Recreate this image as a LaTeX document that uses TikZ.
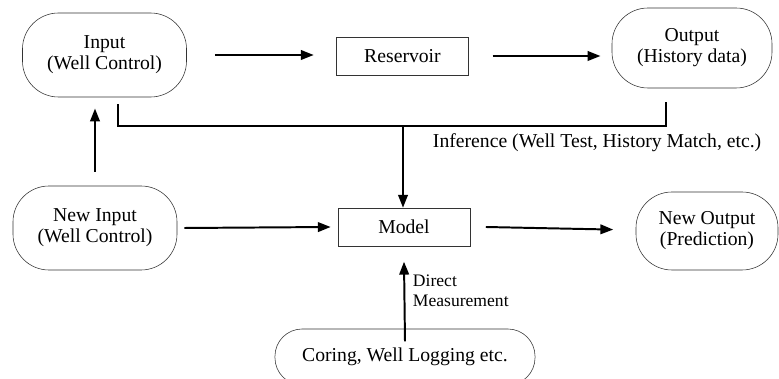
\documentclass[tikz,border=0pt]{standalone}
\usepackage{fontspec}
\setmainfont{Liberation Serif}
\usetikzlibrary{arrows.meta, positioning}

\begin{document}
\begin{tikzpicture}[
  x=0.025cm, y=-0.025cm,
  term/.style={
    draw=black!80,
    rounded corners=0.9cm,
    minimum width=4.1cm,
    minimum height=2.1cm,
    align=center,
    font=\fontsize{14}{15}\selectfont
  },
  block/.style={
    draw=black!80,
    minimum width=3.3cm,
    minimum height=0.95cm,
    align=center,
    font=\fontsize{14}{15}\selectfont
  },
  note/.style={align=left, font=\fontsize{14}{15}\selectfont},
  small/.style={align=left, font=\fontsize{12.5}{14}\selectfont},
  arrow/.style={-{Triangle[length=3.2mm, width=2.4mm]}, line width=1.4pt},
  link/.style={line width=1.4pt}
]
  \useasboundingbox (0,0) rectangle (779,379);

  \node[term] (input) at (104.5,55) {Input\\(Well Control)};
  \node[block] (res) at (402.5,56) {Reservoir};
  \node[term, minimum width=4.0cm, minimum height=2.0cm] (output) at (692,48) {Output\\(History data)};

  \node[term] (newin) at (95,228) {New Input\\(Well Control)};
  \node[block] (model) at (404,227) {Model};
  \node[term, minimum width=3.55cm, minimum height=1.95cm] (newout) at (707,231) {New Output\\(Prediction)};

  \node[term, rounded corners=0.68cm, minimum width=6.5cm, minimum height=1.4cm] (coring) at (405,357) {Coring, Well Logging etc.};

  % top row
  \draw[arrow] ([xshift=20pt]input.east) -- ([xshift=-16pt]res.west |- input.east);
  \draw[arrow] ([xshift=17pt]res.east) -- ([xshift=-8pt]output.west |- res.east);

  % inference path
  \coordinate (fbl) at (118,126);
  \coordinate (fbr) at (666,126);
  \coordinate (fbm) at (403,126);
  \draw[link] ([yshift=-5pt]input.south -| fbl) -- (fbl) -- (fbr) -- ([yshift=-10pt]output.south -| fbr);
  \draw[arrow] (fbm) -- (model.north -| fbm);
  \node[note, anchor=west] (infer) at (428,143) {Inference (Well Test, History Match, etc.)};

  % bottom row
  \draw[arrow] ([yshift=10pt]newin.north) -- ([yshift=-8pt]input.south -| newin.north);
  \draw[arrow] ([xshift=5pt]newin.east) -- ([xshift=-5pt]model.west);
  \draw[arrow] ([xshift=11pt]model.east) -- ([xshift=-16pt,yshift=1pt]newout.west);
  \draw[arrow] ([yshift=-9pt]coring.north) -- ([yshift=-11pt]model.south);
  \node[small, anchor=west] (direct) at (408,291) {Direct\\Measurement};
\end{tikzpicture}
\end{document}
